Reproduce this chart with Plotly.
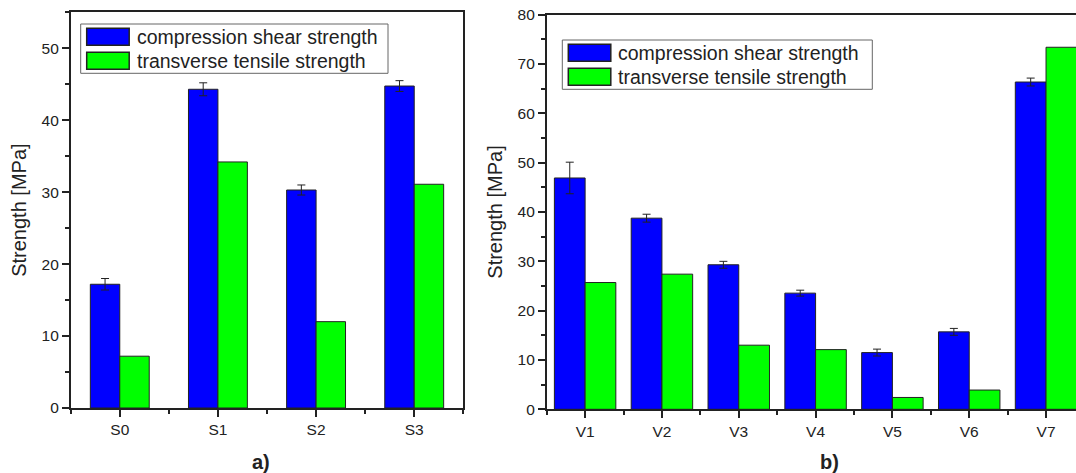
import plotly.graph_objects as go

# ---- data ----
cats_a = ["S0", "S1", "S2", "S3"]
shear_a = [17.2, 44.3, 30.3, 44.75]
shear_err_a = [0.8, 0.9, 0.7, 0.75]
tensile_a = [7.2, 34.2, 12.0, 31.1]

cats_b = ["V1", "V2", "V3", "V4", "V5", "V6", "V7"]
shear_b = [46.9, 38.75, 29.3, 23.55, 11.5, 15.7, 66.35]
shear_err_b = [3.2, 0.8, 0.7, 0.6, 0.7, 0.7, 0.8]
tensile_b = [25.7, 27.4, 13.0, 12.1, 2.4, 3.9, 73.4]

names = ["compression shear strength", "transverse tensile strength"]
colors = ["#0000FF", "#00FF00"]

W, H = 1076, 473
FONT = "Liberation Sans, Arial, sans-serif"
INK = "#222222"

xa = list(range(len(cats_a)))
xb = list(range(len(cats_b)))

fig = go.Figure()

# panel a
fig.add_trace(go.Bar(x=xa, y=shear_a, name=names[0], width=0.3, offset=-0.3,
                     marker=dict(color=colors[0], line=dict(color=INK, width=1)),
                     error_y=dict(type="data", array=shear_err_a, color=INK, thickness=1, width=4),
                     xaxis="x", yaxis="y", showlegend=False))
fig.add_trace(go.Bar(x=xa, y=tensile_a, name=names[1], width=0.3, offset=0,
                     marker=dict(color=colors[1], line=dict(color=INK, width=1)),
                     xaxis="x", yaxis="y", showlegend=False))
# panel b
fig.add_trace(go.Bar(x=xb, y=shear_b, name=names[0], width=0.4, offset=-0.4,
                     marker=dict(color=colors[0], line=dict(color=INK, width=1)),
                     error_y=dict(type="data", array=shear_err_b, color=INK, thickness=1, width=4),
                     xaxis="x2", yaxis="y2", showlegend=False))
fig.add_trace(go.Bar(x=xb, y=tensile_b, name=names[1], width=0.4, offset=0,
                     marker=dict(color=colors[1], line=dict(color=INK, width=1)),
                     xaxis="x2", yaxis="y2", showlegend=False))

tickfont = dict(family=FONT, size=15.5, color=INK)
titlefont = dict(family=FONT, size=20, color=INK)

def xaxis(domain, cats, rng, anchor, mirror):
    n = len(cats)
    return dict(domain=domain, anchor=anchor, range=rng,
                tickmode="array", tickvals=list(range(n)), ticktext=cats,
                ticks="outside", ticklen=7, tickwidth=1.5, tickcolor=INK,
                minor=dict(tickmode="array", tickvals=[i - 0.5 for i in range(n + 1)],
                           ticks="outside", ticklen=4, tickwidth=1.5, tickcolor=INK),
                showline=True, linecolor=INK, linewidth=1.5, mirror=mirror,
                showgrid=False, zeroline=False, tickfont=tickfont, automargin=False)

def yaxis(domain, rng, anchor, mirror):
    return dict(domain=domain, anchor=anchor, range=rng,
                tickmode="linear", tick0=0, dtick=10,
                ticks="outside", ticklen=7, tickwidth=1.5, tickcolor=INK,
                minor=dict(dtick=5, ticks="outside", ticklen=4, tickwidth=1.5, tickcolor=INK),
                showline=True, linecolor=INK, linewidth=1.5, mirror=mirror,
                showgrid=False, zeroline=False, tickfont=tickfont,
                title=dict(text="Strength [MPa]", font=titlefont, standoff=10),
                automargin=False)

# ---- hand-drawn legends (pixel layout of the reference) ----
def px(x):
    return x / W

def py(y):
    return 1 - y / H

shapes = []
annotations = []

def add_legend(x0, y0, x1, y1):
    shapes.append(dict(type="rect", xref="paper", yref="paper",
                       x0=px(x0), x1=px(x1), y0=py(y0), y1=py(y1),
                       fillcolor="white", line=dict(color="#666666", width=1), layer="above"))
    for i, (nm, col) in enumerate(zip(names, colors)):
        top = y0 + 4.3 + i * 24
        shapes.append(dict(type="rect", xref="paper", yref="paper",
                           x0=px(x0 + 6), x1=px(x0 + 48.5), y0=py(top), y1=py(top + 17),
                           fillcolor=col, line=dict(color=INK, width=1.5), layer="above"))
        annotations.append(dict(text=nm, xref="paper", yref="paper",
                                x=px(x0 + 54), y=py(top + 8.5), xanchor="left", yanchor="middle",
                                showarrow=False, font=dict(family=FONT, size=19.5, color=INK)))

add_legend(80.7, 24, 388, 73.3)
add_legend(562.3, 40, 872.3, 89.3)

annotations.append(dict(text="<b>a)</b>", x=px(261), y=py(462), xref="paper", yref="paper",
                        xanchor="center", yanchor="middle",
                        showarrow=False, font=dict(family=FONT, size=20, color=INK)))
annotations.append(dict(text="<b>b)</b>", x=px(829), y=py(462), xref="paper", yref="paper",
                        xanchor="center", yanchor="middle",
                        showarrow=False, font=dict(family=FONT, size=20, color=INK)))

fig.update_layout(
    width=W, height=H,
    margin=dict(l=0, r=0, t=0, b=0),
    paper_bgcolor="white", plot_bgcolor="white",
    barmode="overlay",
    showlegend=False,
    font=dict(family=FONT, color=INK),
    xaxis=xaxis([70.7 / W, 463.3 / W], cats_a, [-0.5, 3.5], "y", True),
    yaxis=yaxis([1 - 408 / H, 1 - 12.3 / H], [0, 55], "x", True),
    xaxis2=xaxis([546.7 / W, 1.0], cats_b, [-0.5, 6.39], "y2", True),
    yaxis2=yaxis([1 - 409.3 / H, 1 - 14.7 / H], [0, 80], "x2", False),
    shapes=shapes,
    annotations=annotations,
)

fig.write_html("out.html",
               config={"displayModeBar": False},
               post_script="document.body.style.margin='0';document.body.style.overflow='hidden';")
